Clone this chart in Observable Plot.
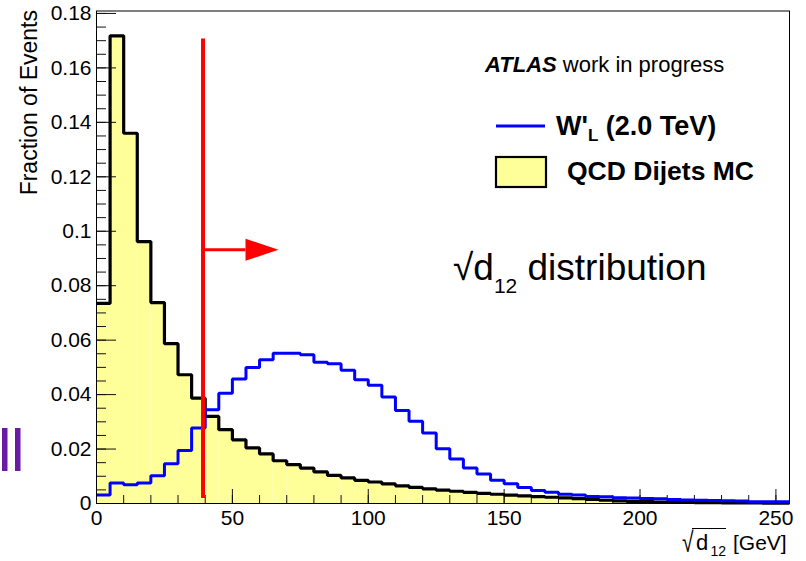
<!DOCTYPE html>
<html><head><meta charset="utf-8">
<script src="https://cdn.jsdelivr.net/npm/d3@7"></script>
<script src="https://cdn.jsdelivr.net/npm/@observablehq/plot@0.6"></script>
<style>
html,body{margin:0;padding:0;background:#fff;}
#chart{position:relative;width:806px;height:561px;}
</style></head><body><div id="chart"></div>
<script>
// bin lower edges (GeV), bin width 5
const binStarts = [0,5,10,15,20,25,30,35,40,45,50,55,60,65,70,75,80,85,90,95,100,105,110,115,120,125,130,135,140,145,150,155,160,165,170,175,180,185,190,195,200,205,210,215,220,225,230,235,240,245,250];
const binWidth = 5;
// QCD Dijets MC fraction of events
const qcdFrac = [0.0735,0.1718,0.1360,0.0962,0.0738,0.0587,0.0473,0.0387,0.0320,0.0271,0.0234,0.0204,0.0182,0.0157,0.0143,0.0130,0.0116,0.0103,0.0094,0.0085,0.0079,0.0072,0.0065,0.0059,0.0054,0.0049,0.0045,0.0041,0.0037,0.0034,0.0031,0.0028,0.0025,0.0023,0.0021,0.0018,0.0015,0.0012,0.0010,0.0008,0.0007,0.0005,0.0004,0.0004,0.0003,0.0003,0.0002,0.0002,0.0002,0.0001,0.0001];
// W'_L (2.0 TeV) fraction of events
const wprimeFrac = [0.0031,0.0075,0.0069,0.0075,0.0102,0.0146,0.0195,0.0277,0.0344,0.0405,0.0457,0.0500,0.0528,0.0552,0.0552,0.0546,0.0519,0.0513,0.0489,0.0455,0.0434,0.0391,0.0342,0.0302,0.0259,0.0201,0.0163,0.0130,0.0108,0.0085,0.0073,0.0059,0.0048,0.0041,0.0034,0.0031,0.0026,0.0025,0.0021,0.0020,0.0018,0.0017,0.0015,0.0013,0.0012,0.0011,0.0010,0.0009,0.0006,0.0006,0.0006];
// axis ticks
const xMajorTicks = [0,50,100,150,200,250];
const xAllTicks = [0,10,20,30,40,50,60,70,80,90,100,110,120,130,140,150,160,170,180,190,200,210,220,230,240,250];
const yMajorTicks = [0,0.02,0.04,0.06,0.08,0.1,0.12,0.14,0.16,0.18];
const yAllTicks = [0,0.005,0.01,0.015,0.02,0.025,0.03,0.035,0.04,0.045,0.05,0.055,0.06,0.065,0.07,0.075,0.08,0.085,0.09,0.095,0.1,0.105,0.11,0.115,0.12,0.125,0.13,0.135,0.14,0.145,0.15,0.155,0.16,0.165,0.17,0.175,0.18];
// cut annotation
const cutX = [39.2];
const cutYRange = [0.0018, 0.1706];
const arrowY = [0.0932];
const arrowShaftEnd = [55];
const arrowHeadX = [60.9];

const W = 806, H = 561, mL = 96, mR = 17, mT = 10.5, mB = 58;
const plotW = W - mL - mR, plotH = H - mT - mB;
const FONT = "'Liberation Sans', Arial, Helvetica, sans-serif";

const qcdBins = binStarts.map((s, i) => ({x1: s, x2: s + binWidth, v: qcdFrac[i]}));
const qcdLine = binStarts.map((s, i) => ({x: s, v: qcdFrac[i]})).concat([{x: 255, v: qcdFrac[qcdFrac.length - 1]}]);
const wLine = binStarts.map((s, i) => ({x: s, v: wprimeFrac[i]})).concat([{x: 255, v: wprimeFrac[wprimeFrac.length - 1]}]);

const triangleRight = {
  draw(ctx) { ctx.moveTo(-16.5, -11); ctx.lineTo(16.5, 0); ctx.lineTo(-16.5, 11); ctx.closePath(); }
};

const chart = Plot.plot({
  width: W, height: H,
  marginLeft: mL, marginRight: mR, marginTop: mT, marginBottom: mB,
  style: {fontFamily: FONT, fontSize: "21px", color: "black", background: "white", overflow: "visible"},
  x: {domain: [0, 255]},
  y: {domain: [0, 0.1809]},
  marks: [
    Plot.rect(qcdBins, {x1: "x1", x2: "x2", y1: 0, y2: "v", fill: "#ffff99", stroke: "none"}),
    Plot.ruleX(xAllTicks, {x: d => d, stroke: "#111", strokeWidth: 1, insetTop: plotH - 8}),
    Plot.ruleX(xMajorTicks, {x: d => d, stroke: "#111", strokeWidth: 1, insetTop: plotH - 14}),
    Plot.ruleY(yAllTicks, {y: d => d, stroke: "#111", strokeWidth: 1, insetRight: plotW - 10}),
    Plot.ruleY(yMajorTicks, {y: d => d, stroke: "#111", strokeWidth: 1, insetRight: plotW - 20}),
    Plot.line(qcdLine, {x: "x", y: "v", curve: "step-after", stroke: "black", strokeWidth: 3.2, strokeLinejoin: "miter", strokeLinecap: "butt"}),
    Plot.line(wLine, {x: "x", y: "v", curve: "step-after", stroke: "#0000ff", strokeWidth: 3, strokeLinejoin: "miter", strokeLinecap: "butt"}),
    Plot.ruleX(cutX, {x: d => d, y1: cutYRange[0], y2: cutYRange[1], stroke: "#ff0000", strokeWidth: 4}),
    Plot.ruleY(arrowY, {y: d => d, x1: cutX[0], x2: arrowShaftEnd[0], stroke: "#ff0000", strokeWidth: 3}),
    Plot.dot(arrowY, {x: () => arrowHeadX[0], y: d => d, symbol: triangleRight, fill: "#ff0000", stroke: "none", r: 10}),
    Plot.frame({stroke: "black", strokeWidth: 1}),
    Plot.axisX({ticks: xMajorTicks, tickSize: 0, tickPadding: 7, label: null, tickFormat: d => String(d)}),
    Plot.axisY({ticks: yMajorTicks, tickSize: 0, tickPadding: 5, label: null, tickFormat: d => String(+d.toFixed(2))})
  ]
});
document.getElementById("chart").appendChild(chart);

const svg = d3.select(chart);
const g = svg.append("g").attr("font-family", FONT).attr("fill", "black").attr("text-anchor", "start");

// y axis title
g.append("text").attr("transform", "translate(37,10) rotate(-90)")
  .attr("text-anchor", "end").attr("font-size", 23).text("Fraction of Events");

// x axis title: sqrt(d12) [GeV]
const xt = g.append("g");
xt.append("text").attr("transform", "translate(682,552) scale(1,1.35)").attr("font-size", 21).text("√");
xt.append("text").attr("x", 696).attr("y", 550).attr("font-size", 22).text("d");
xt.append("text").attr("x", 710.5).attr("y", 556).attr("font-size", 14).text("12");
xt.append("text").attr("x", 733).attr("y", 550).attr("font-size", 21).text("[GeV]");
xt.append("line").attr("x1", 692).attr("x2", 726).attr("y1", 528.5).attr("y2", 528.5).attr("stroke", "black").attr("stroke-width", 1.2);

// ATLAS label
const at = g.append("text").attr("x", 485).attr("y", 72).attr("font-size", 22);
at.append("tspan").attr("font-weight", "bold").attr("font-style", "italic").text("ATLAS");
at.append("tspan").text(" work in progress");

// legend W'
g.append("line").attr("x1", 496).attr("x2", 545).attr("y1", 126).attr("y2", 126).attr("stroke", "#0000ff").attr("stroke-width", 3);
const wl = g.append("text").attr("x", 556).attr("y", 134.5).attr("font-size", 27).attr("font-weight", "bold");
wl.append("tspan").text("W'");
wl.append("tspan").attr("font-size", 17).attr("dy", 6).text("L");
wl.append("tspan").attr("dy", -6).text(" (2.0 TeV)");

// legend QCD
g.append("rect").attr("x", 496).attr("y", 157).attr("width", 50).attr("height", 30)
  .attr("fill", "#ffff99").attr("stroke", "black").attr("stroke-width", 2.2);
g.append("text").attr("x", 567).attr("y", 179.5).attr("font-size", 26.5).attr("font-weight", "bold").text("QCD Dijets MC");

// distribution label
const dl = g.append("text").attr("x", 453).attr("y", 280).attr("font-size", 37);
dl.append("tspan").text("√d");
dl.append("tspan").attr("font-size", 21).attr("dy", 13).text("12");
dl.append("tspan").attr("dy", -13).text(" distribution");

// purple marks at left edge
g.append("rect").attr("x", 2).attr("y", 428).attr("width", 5.5).attr("height", 43).attr("fill", "#6a1ba6");
g.append("rect").attr("x", 15).attr("y", 428).attr("width", 5.5).attr("height", 43).attr("fill", "#6a1ba6");
</script></body></html>
